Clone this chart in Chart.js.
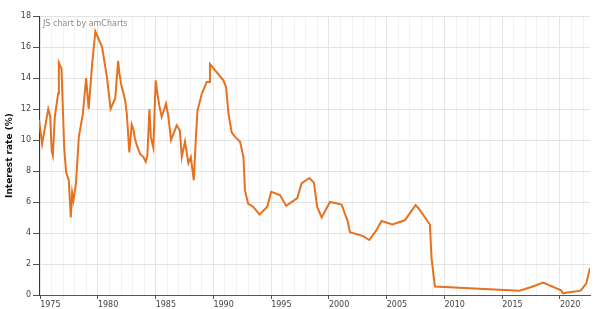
<!DOCTYPE html>
<html>
<head>
<meta charset="utf-8">
<script src="https://cdn.jsdelivr.net/npm/chart.js@4/dist/chart.umd.min.js"></script>
<style>
  body { margin: 0; background: #fff; }
</style>
</head>
<body>
<canvas id="rateChart" width="602" height="309"></canvas>
<script>
// Interest rate (%), x as decimal years
const years = [
    1974.9, 1975.17, 1975.7, 1975.87, 1976.0, 1976.1, 1976.27, 1976.56, 1976.62, 1976.85,
    1977.08, 1977.25, 1977.48, 1977.65, 1977.77, 1977.88, 1978.1, 1978.35, 1978.7, 1978.98,
    1979.2, 1979.5, 1979.78, 1980.36, 1980.77, 1981.1, 1981.5, 1981.75, 1981.86, 1982.06,
    1982.15, 1982.35, 1982.5, 1982.72, 1982.93, 1983.07, 1983.2, 1983.42, 1983.65, 1983.94,
    1984.14, 1984.28, 1984.46, 1984.58, 1984.8, 1985.0, 1985.15, 1985.32, 1985.52, 1985.9,
    1986.1, 1986.33, 1986.82, 1987.1, 1987.26, 1987.54, 1987.83, 1988.04, 1988.3, 1988.47,
    1988.62, 1989.0, 1989.42, 1989.62, 1989.7, 1990.86, 1991.1, 1991.3, 1991.58, 1991.87,
    1992.3, 1992.6, 1992.73, 1993.0, 1993.43, 1994.0, 1994.66, 1995.0, 1995.76, 1996.3,
    1997.26, 1997.63, 1998.3, 1998.7, 1998.98, 1999.37, 2000.09, 2001.1, 2001.38, 2001.6,
    2001.82, 2002.97, 2003.49, 2004.1, 2004.55, 2005.5, 2006.57, 2007.5, 2007.8, 2008.74,
    2008.88, 2009.17, 2016.5, 2017.53, 2018.54, 2020.1, 2020.27, 2020.5, 2021.8, 2022.28,
    2022.6
];
const rates = [
    11.3, 9.75, 12.0, 11.5, 9.3, 9.0, 11.5, 13.0, 15.0, 14.6,
    9.5, 7.9, 7.4, 5.0, 6.6, 6.1, 7.2, 10.2, 11.7, 14.0,
    12.0, 14.9, 17.0, 16.0, 14.1, 12.0, 12.7, 15.1, 14.3, 13.4,
    13.2, 12.6, 11.7, 9.2, 11.0, 10.7, 10.1, 9.55, 9.1, 8.9,
    8.6, 9.0, 12.0, 10.2, 9.5, 13.85, 13.0, 12.2, 11.5, 12.35,
    11.5, 10.0, 10.95, 10.6, 8.9, 9.9, 8.5, 8.9, 7.4, 10.0,
    11.9, 13.0, 13.75, 13.75, 14.9, 13.85, 13.4, 11.7, 10.5, 10.2,
    9.9, 8.9, 6.75, 5.9, 5.7, 5.2, 5.7, 6.65, 6.45, 5.75,
    6.25, 7.2, 7.55, 7.25, 5.7, 5.0, 6.0, 5.83, 5.25, 4.82,
    4.05, 3.8, 3.55, 4.17, 4.77, 4.55, 4.82, 5.8, 5.55, 4.55,
    2.4, 0.55, 0.28, 0.52, 0.8, 0.3, 0.1, 0.15, 0.28, 0.75,
    1.75
];

// Axis settings
const xMin = 1974.9;
const xMax = 2022.6;
const yTicks = [0, 2, 4, 6, 8, 10, 12, 14, 16, 18];
const gridYears = [];
for (let y = 1975; y <= 2022; y++) gridYears.push(y);

const fontFamily = "'DejaVu Sans', Verdana, sans-serif";

// small "JS chart by amCharts" caption in the plot corner
const captionPlugin = {
    id: 'caption',
    afterDraw(chart) {
        const ctx = chart.ctx;
        ctx.save();
        ctx.font = '8px ' + fontFamily;
        ctx.fillStyle = '#8a8a8a';
        ctx.textAlign = 'left';
        ctx.textBaseline = 'middle';
        ctx.fillText('JS chart by amCharts', chart.chartArea.left + 4, chart.chartArea.top + 8);
        ctx.restore();
    }
};

var canvas = document.getElementById('rateChart');
var chart = new Chart(canvas, {
    type: 'line',
    data: {
        datasets: [{
            label: 'Interest rate',
            data: years.map((x, i) => ({ x: x, y: rates[i] })),
            borderColor: '#e6721f',
            borderWidth: 2,
            pointRadius: 0,
            tension: 0,
            fill: false
        }]
    },
    options: {
        responsive: false,
        animation: false,
        layout: { padding: { left: 0, top: 16, right: 12, bottom: 0 } },
        plugins: {
            legend: { display: false },
            tooltip: { enabled: false }
        },
        scales: {
            x: {
                type: 'linear',
                min: xMin,
                max: xMax,
                afterBuildTicks: s => { s.ticks = gridYears.map(v => ({ value: v })); },
                afterFit: s => { s.height = 14; },
                border: { color: '#555', width: 1 },
                grid: {
                    color: c => (c.tick && c.tick.value % 5 === 0) ? '#e6e6e6' : '#f3f3f3',
                    tickColor: c => (c.tick && c.tick.value % 5 === 0) ? '#555' : 'rgba(0,0,0,0)',
                    tickLength: 4
                },
                ticks: {
                    autoSkip: false,
                    maxRotation: 0,
                    align: 'start',
                    padding: 1,
                    color: '#444',
                    font: { family: fontFamily, size: 8 },
                    callback: v => (v % 5 === 0 ? String(v) : '')
                }
            },
            y: {
                min: 0,
                max: 18,
                afterBuildTicks: s => { s.ticks = yTicks.map(v => ({ value: v })); },
                afterFit: s => { s.width = 39; },
                border: { color: '#333', width: 1 },
                grid: {
                    color: '#e3e3e3',
                    tickColor: '#555',
                    tickLength: 6
                },
                ticks: {
                    padding: 2,
                    color: '#444',
                    font: { family: fontFamily, size: 8 }
                },
                title: {
                    display: true,
                    text: 'Interest rate (%)',
                    color: '#111',
                    padding: { top: 4, bottom: 0 },
                    font: { family: fontFamily, size: 9, weight: 'bold' }
                }
            }
        }
    },
    plugins: [captionPlugin]
});
</script>
</body>
</html>
